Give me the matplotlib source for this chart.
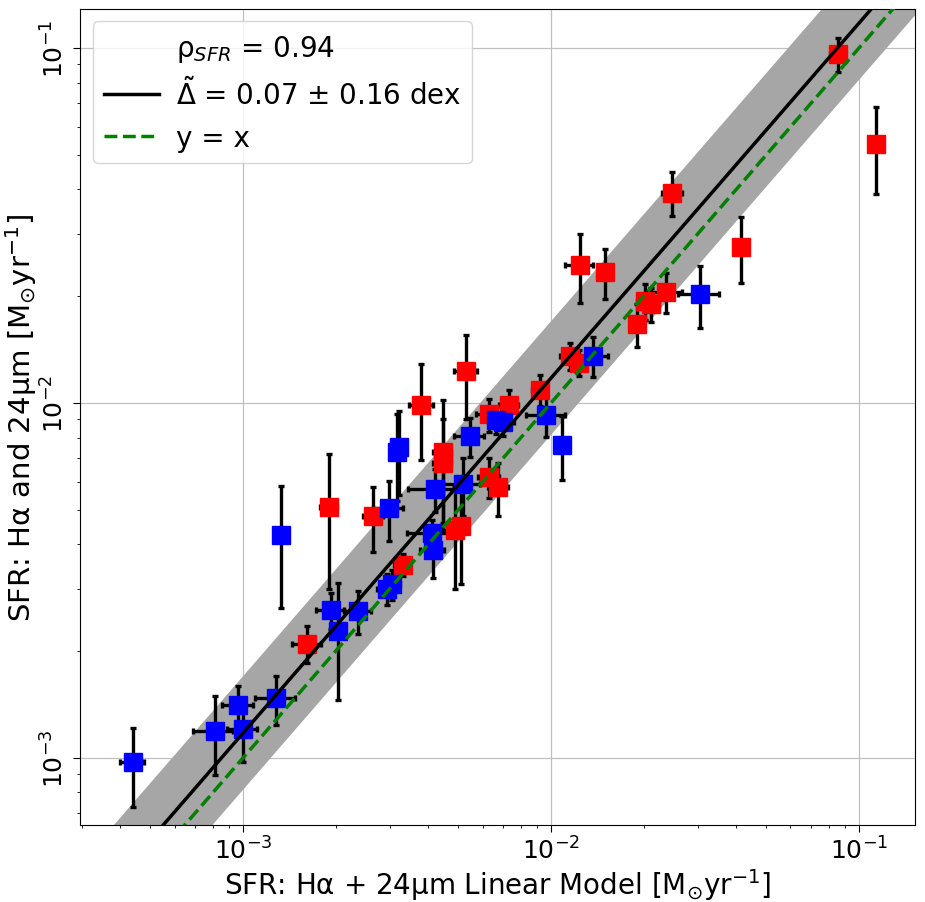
import numpy as np
import matplotlib
matplotlib.use('Agg')
import matplotlib.pyplot as plt

# SFR values (M_sun / yr)
x_red = [0.0853, 0.114, 0.0248, 0.0413, 0.0124, 0.0150, 0.0237, 0.0202, 0.0212,
         0.0191, 0.0115, 0.0123, 0.0092, 0.0053, 0.0038, 0.0073, 0.0063, 0.00445,
         0.00445, 0.0063, 0.00675, 0.0019, 0.00265, 0.0049, 0.0051, 0.0033, 0.00162]
y_red = [0.0962, 0.0537, 0.0392, 0.0276, 0.0245, 0.0234, 0.0206, 0.0194, 0.0190,
         0.0167, 0.0136, 0.0130, 0.0109, 0.0123, 0.0099, 0.0099, 0.0093, 0.0073,
         0.0068, 0.0062, 0.0058, 0.0051, 0.0048, 0.0044, 0.0045, 0.0035, 0.0021]
xerr_red = [0.0048, 0.0, 0.0018, 0.0, 0.0013, 0.0005, 0.0030, 0.0012, 0.0012,
            0.0008, 0.0008, 0.0008, 0.0005, 0.00046, 0.00033, 0.0005, 0.0006, 0.0003,
            0.0003, 0.0005, 0.0005, 0.00012, 0.0002, 0.0003, 0.0003, 0.0002, 0.00018]
yerr_red = [0.0107, 0.0148, 0.0056, 0.0058, 0.0054, 0.0038, 0.0026, 0.0022, 0.0021,
            0.0023, 0.0012, 0.0011, 0.0011, 0.0033, 0.0030, 0.0010, 0.0010, 0.0029,
            0.0022, 0.0008, 0.0010, 0.0021, 0.0010, 0.0014, 0.0014, 0.00025, 0.00025]

x_blue = [4.39e-4, 8.11e-4, 9.65e-4, 1.0e-3, 1.286e-3, 1.927e-3, 2.03e-3, 2.368e-3,
          2.93e-3, 3.04e-3, 2.98e-3, 3.155e-3, 3.218e-3, 1.335e-3, 4.2e-3, 5.17e-3,
          4.1e-3, 4.13e-3, 5.46e-3, 6.66e-3, 7.0e-3, 9.68e-3, 1.091e-2, 1.366e-2, 3.05e-2]
y_blue = [9.73e-4, 1.194e-3, 1.41e-3, 1.207e-3, 1.473e-3, 2.617e-3, 2.284e-3, 2.6e-3,
          2.992e-3, 3.09e-3, 5.06e-3, 7.29e-3, 7.5e-3, 4.25e-3, 5.72e-3, 5.91e-3,
          4.3e-3, 3.86e-3, 8.06e-3, 8.96e-3, 8.86e-3, 9.25e-3, 7.63e-3, 1.359e-2, 2.028e-2]
xerr_blue = [4e-5, 1.2e-4, 1.1e-4, 1.1e-4, 1.9e-4, 2e-4, 1e-4, 2.3e-4,
             2e-4, 2e-4, 3.3e-4, 5e-5, 5e-5, 5e-5, 7.5e-4, 7e-4,
             7e-4, 3.7e-4, 6e-4, 6e-4, 6e-4, 1.4e-3, 0.0, 1.7e-3, 4.7e-3]
yerr_blue = [2.45e-4, 3.0e-4, 1.9e-4, 2.3e-4, 2.3e-4, 3.0e-4, 8.3e-4, 3.6e-4,
             3.0e-4, 3.0e-4, 9.8e-4, 2.0e-3, 2.0e-3, 1.6e-3, 8e-4, 1.1e-3,
             4e-4, 6.5e-4, 1.0e-3, 8e-4, 8e-4, 1.2e-3, 1.55e-3, 1.75e-3, 4.0e-3]

rho = 0.94
offset = 0.07   # median offset in dex
scatter = 0.16  # dex

fig = plt.figure(figsize=(9.25, 9.03), dpi=100)
ax = fig.add_axes([0.0865, 0.0853, 0.9025, 0.9037])

xx = np.logspace(-4, 0, 200)
fit = xx * 10**offset
ax.fill_between(xx, fit * 10**(-scatter), fit * 10**scatter, color='#a6a6a6', zorder=1, lw=0)

ekw = dict(fmt='s', ecolor='k', elinewidth=2.4, capsize=2.5, capthick=2.4, ms=13, zorder=2)
ax.errorbar(x_red, y_red, xerr=xerr_red, yerr=yerr_red, color='red', mec='red', **ekw)
ax.errorbar(x_blue, y_blue, xerr=xerr_blue, yerr=yerr_blue, color='blue', mec='blue', **ekw)

ax.plot([], [], ' ', label=r'ρ$_{SFR}$ = %.2f' % rho)
ax.plot(xx, fit, 'k-', lw=2.5, zorder=3,
        label=r'$\tilde{\Delta}$ = %.2f ± %.2f dex' % (offset, scatter))
ax.plot(xx, xx, '--', color='green', lw=2.5, zorder=3, label='y = x')

ax.set_xscale('log')
ax.set_yscale('log')
ax.set_xlim(2.96e-4, 0.152)
ax.set_ylim(6.48e-4, 0.129)
ax.grid(True, which='major', color='#c0c0c0', lw=0.9)
ax.set_axisbelow(True)

ax.tick_params(axis='both', which='major', labelsize=18, length=5, pad=3)
ax.tick_params(axis='y', labelrotation=90)
for lab in ax.get_yticklabels():
    lab.set_va('center')

ax.set_xlabel(r'SFR: Hα + 24μm Linear Model [M$_{\odot}$yr$^{-1}$]', fontsize=20, labelpad=2)
ax.set_ylabel(r'SFR: Hα and 24μm [M$_{\odot}$yr$^{-1}$]', fontsize=21, labelpad=2)

ax.legend(loc='upper left', fontsize=20, handletextpad=0.6, borderaxespad=0.45)

fig.savefig('out.png', dpi=100)
